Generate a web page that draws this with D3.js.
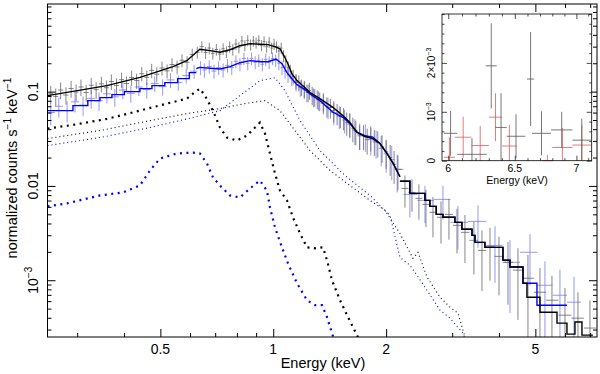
<!DOCTYPE html>
<html>
<head>
<meta charset="utf-8">
<script src="https://cdn.jsdelivr.net/npm/d3@7"></script>
<style>
body { margin: 0; background: #fff; }
text { font-family: "Liberation Sans", Arial, sans-serif; fill: #000; }
</style>
</head>
<body>
<script>
// ---- data (energies in keV, rates in counts/s/keV) ----
const xTickVals = [0.5, 1, 2, 5];
const xTickLabels = ["0.5", "1", "2", "5"];
const yTickVals = [0.001, 0.01, 0.1];
const yTickLabels = [["10", "\u22123"], ["0.01", ""], ["0.1", ""]];

// [E, rate, err]
const blackData = [[0.255,0.095,0.020],[0.263,0.089,0.019],[0.271,0.104,0.021],[0.280,0.092,0.019],[0.289,0.108,0.022],[0.298,0.099,0.020],[0.307,0.112,0.022],[0.317,0.098,0.020],[0.327,0.117,0.023],[0.337,0.105,0.021],[0.348,0.121,0.023],[0.359,0.110,0.021],[0.370,0.128,0.024],[0.382,0.116,0.022],[0.394,0.134,0.025],[0.406,0.122,0.023],[0.419,0.141,0.026],[0.432,0.131,0.024],[0.446,0.155,0.027],[0.460,0.142,0.025],[0.474,0.168,0.029],[0.489,0.153,0.027],[0.505,0.178,0.030],[0.521,0.166,0.028],[0.537,0.194,0.032],[0.554,0.183,0.030],[0.571,0.215,0.034],[0.589,0.205,0.033],[0.608,0.248,0.037],[0.627,0.262,0.038],
  [0.645,0.30,0.042],[0.660,0.26,0.038],[0.675,0.29,0.041],[0.690,0.255,0.037],[0.705,0.28,0.040],[0.720,0.25,0.036],[0.735,0.285,0.040],[0.750,0.265,0.038],[0.765,0.30,0.041],[0.780,0.28,0.039],[0.795,0.32,0.043],[0.810,0.295,0.040],[0.825,0.345,0.045],[0.840,0.31,0.042],[0.855,0.35,0.046],[0.870,0.315,0.042],[0.885,0.345,0.045],[0.900,0.33,0.044],[0.915,0.35,0.046],[0.930,0.31,0.042],[0.945,0.34,0.045],[0.960,0.30,0.041],[0.975,0.335,0.044],[0.990,0.29,0.040],[1.005,0.32,0.043],[1.020,0.30,0.041],[1.035,0.27,0.038],[1.050,0.29,0.040],[1.065,0.24,0.035],[1.080,0.21,0.032],[1.095,0.18,0.029],
  [1.11,0.165,0.028],[1.13,0.145,0.026],[1.15,0.13,0.024],[1.17,0.125,0.024],[1.19,0.112,0.022],[1.21,0.108,0.022],[1.23,0.098,0.021],[1.25,0.103,0.021],[1.27,0.092,0.020],[1.29,0.088,0.019],[1.31,0.084,0.019],[1.33,0.080,0.018],[1.36,0.078,0.018],[1.39,0.070,0.017],[1.42,0.068,0.016],[1.45,0.063,0.016],[1.48,0.059,0.015],[1.51,0.055,0.014],[1.54,0.053,0.014],[1.57,0.047,0.013],[1.60,0.046,0.013],[1.63,0.041,0.012],[1.66,0.038,0.011],[1.70,0.034,0.010],[1.74,0.034,0.010],[1.78,0.031,0.0095],[1.82,0.033,0.0098],[1.86,0.030,0.0092],[1.90,0.029,0.009],[1.95,0.026,0.0085],[2.00,0.023,0.0078],[2.05,0.020,0.0072],[2.10,0.017,0.0065],[2.15,0.015,0.006],
  [2.245,0.0094,0.0035],[2.344,0.00853,0.0032],[2.446,0.00738,0.003],[2.554,0.00637,0.0027],[2.666,0.00525,0.0024],[2.801,0.00465,0.0022],[2.941,0.00499,0.0023],[3.09,0.00382,0.0019],[3.245,0.00322,0.0017],[3.428,0.00265,0.0015],[3.602,0.00207,0.0013],[3.784,0.00229,0.0013],[3.999,0.00179,0.0011],[4.226,0.00155,0.001],[4.493,0.00128,0.0009],[4.777,0.00105,0.0008],[5.143,0.000746,0.0006],[5.536,0.000614,0.0005],[5.997,0.000426,0.0004],[6.494,0.000396,0.00035],[6.991,0.000311,0.0003]];

const blueData = [[0.255,0.060,0.016],[0.268,0.070,0.017],[0.282,0.063,0.016],[0.296,0.078,0.018],[0.311,0.072,0.017],[0.327,0.085,0.019],[0.343,0.080,0.018],[0.360,0.095,0.020],[0.378,0.088,0.019],[0.397,0.104,0.021],[0.417,0.096,0.020],[0.438,0.112,0.022],[0.460,0.105,0.021],[0.483,0.122,0.023],[0.507,0.113,0.022],[0.532,0.133,0.024],[0.558,0.125,0.023],[0.586,0.148,0.026],[0.615,0.165,0.028],[0.640,0.180,0.030],
  [0.655,0.17,0.029],[0.675,0.185,0.030],[0.695,0.165,0.028],[0.715,0.18,0.030],[0.735,0.17,0.029],[0.755,0.19,0.031],[0.775,0.18,0.030],[0.795,0.21,0.033],[0.815,0.195,0.031],[0.835,0.225,0.034],[0.855,0.20,0.032],[0.875,0.225,0.034],[0.895,0.205,0.032],[0.915,0.215,0.033],[0.935,0.195,0.031],[0.955,0.22,0.034],[0.975,0.205,0.032],[0.995,0.225,0.034],[1.015,0.215,0.033],[1.035,0.20,0.032],[1.055,0.18,0.030],[1.075,0.165,0.028],[1.095,0.15,0.027],
  [1.12,0.14,0.026],[1.15,0.125,0.024],[1.18,0.11,0.022],[1.21,0.105,0.022],[1.24,0.098,0.021],[1.28,0.088,0.020],[1.32,0.082,0.019],[1.36,0.075,0.018],[1.40,0.068,0.017],[1.45,0.060,0.016],[1.50,0.055,0.015],[1.55,0.050,0.014],[1.60,0.045,0.013],[1.65,0.039,0.012],[1.70,0.035,0.011],[1.76,0.034,0.011],[1.82,0.031,0.010],[1.88,0.029,0.0095],[1.94,0.025,0.0088],[2.00,0.022,0.0082],[2.07,0.019,0.0075],[2.14,0.015,0.0065],
  [2.314,0.00813,0.0035],[2.538,0.00703,0.003],[2.835,0.0072,0.0028],[3.108,0.00411,0.002],[3.515,0.00421,0.002],[3.902,0.00234,0.0014],[4.278,0.00155,0.0011],[4.837,0.00198,0.0011],[5.303,0.000885,0.0007],[5.815,0.000693,0.0006],[6.338,0.000585,0.0005]];

// total models: smooth part, then binned part
const blackModel = [[0.25,0.0907],[0.292,0.1007],[0.360,0.1158],[0.441,0.1417],[0.540,0.184],[0.588,0.213],[0.637,0.281],[0.678,0.272],[0.721,0.262],[0.767,0.278],[0.815,0.307],[0.867,0.323],[0.922,0.318],[0.968,0.315],[1.012,0.299],[1.042,0.285],[1.068,0.240],[1.094,0.198],[1.121,0.155],[1.157,0.131],[1.215,0.110],[1.253,0.0978],[1.332,0.0843],[1.442,0.0682],[1.533,0.0557],[1.601,0.047],[1.671,0.0371],[1.755,0.0334],[1.843,0.0318],[1.925,0.0282],[2.010,0.0221],[2.089,0.0173],[2.177,0.0125]];
const blueLowBins = [[0.25,0.0629],[0.2923,0.0711],[0.3202,0.0803],[0.345,0.0864],[0.3713,0.0929],[0.4008,0.100],[0.441,0.1076],[0.4747,0.1158],[0.5137,0.1246],[0.5559,0.1373],[0.5973,0.1589],[0.6235,0.1589]];
const blueModel = [[0.6235,0.1751],[0.637,0.181],[0.678,0.1773],[0.721,0.1739],[0.767,0.184],[0.815,0.2027],[0.867,0.213],[0.922,0.2077],[0.968,0.2077],[1.017,0.2218],[1.055,0.198],[1.088,0.1589],[1.121,0.137],[1.157,0.1186],[1.215,0.105],[1.253,0.0945],[1.332,0.0803],[1.442,0.0604],[1.533,0.0535],[1.601,0.0459],[1.671,0.0371],[1.755,0.0342],[1.843,0.0329],[1.925,0.0282],[2.010,0.0221],[2.089,0.0173],[2.177,0.0125]];
const blackBins = [[2.177,0.0112],[2.314,0.00834],[2.538,0.00703],[2.617,0.00607],[2.72,0.00499],[2.835,0.00465],[3.051,0.00411],[3.185,0.00347],[3.388,0.00299],[3.451,0.00252],[3.668,0.00223],[4.098,0.00163],[4.278,0.00138],[4.634,0.000929],[4.748,0.000661],[5.143,0.000458],[5.71,0.000351],[6.07,0.000268],[6.376,0.00036],[6.656,0.000262],[7.12,0.000262]];
const blueBins = [[2.177,0.0112],[2.314,0.00834],[2.538,0.00703],[2.617,0.00607],[2.72,0.00499],[2.835,0.00465],[3.051,0.00411],[3.185,0.00347],[3.388,0.00299],[3.451,0.00252],[3.668,0.00223],[4.098,0.00163],[4.278,0.00138],[4.634,0.000929],[5.049,0.000543],[6.07,0.000543]];

// model components
const blackCool = [[0.25,0.0406],[0.2923,0.0444],[0.3601,0.0514],[0.441,0.0629],[0.5206,0.0747],[0.5886,0.0843],[0.6108,0.0952],[0.6373,0.1076],[0.6575,0.0907],[0.6906,0.0629],[0.7209,0.0416],[0.7523,0.0326],[0.80,0.0303],[0.8509,0.0342],[0.8937,0.0416],[0.9215,0.047],[0.9504,0.0359],[0.9799,0.0221],[1.0104,0.0136],[1.042,0.00896],[1.0877,0.00703],[1.1287,0.00464],[1.1783,0.00314],[1.2301,0.00223],[1.2921,0.00218],[1.3571,0.00223],[1.3908,0.00163],[1.4342,0.001],[1.5064,0.000614],[1.5822,0.000406],[1.6823,0.000249],[1.75,0.00017]];
const blueCool = [[0.25,0.00607],[0.2818,0.00653],[0.345,0.00793],[0.3973,0.00853],[0.441,0.0101],[0.469,0.0146],[0.4987,0.0195],[0.5536,0.0221],[0.6108,0.0226],[0.6373,0.0221],[0.6657,0.0173],[0.6906,0.0123],[0.7209,0.0101],[0.7663,0.00793],[0.8149,0.00755],[0.8668,0.0094],[0.9215,0.0114],[0.962,0.0089],[0.9799,0.00592],[1.0104,0.00364],[1.0549,0.00223],[1.0944,0.00151],[1.1567,0.000929],[1.2301,0.000614],[1.2921,0.000544],[1.3488,0.000544],[1.3908,0.000406],[1.4342,0.000275],[1.47,0.0002]];
const blackHot = [[0.25,0.0318],[0.345,0.0387],[0.469,0.0493],[0.5886,0.0585],[0.7209,0.0661],[0.8403,0.0747],[0.9504,0.0803],[1.042,0.0629],[1.1427,0.0387],[1.253,0.0237],[1.4167,0.0146],[1.6017,0.0101],[1.811,0.00703],[1.9862,0.00551],[2.1771,0.00314],[2.3577,0.00171],[2.4316,0.00198],[2.5699,0.00108],[2.7836,0.000661],[2.9595,0.000518],[3.1088,0.000447],[3.2456,0.000249],[3.35,0.00018]];
const blueHot = [[0.25,0.0268],[0.345,0.0326],[0.469,0.0416],[0.5886,0.0514],[0.7209,0.0629],[0.8149,0.0907],[0.9215,0.1307],[1.0104,0.1406],[1.0745,0.1025],[1.1783,0.0493],[1.3323,0.0237],[1.5533,0.0129],[1.811,0.00793],[2.0477,0.00487],[2.1771,0.00175],[2.3145,0.00144],[2.4166,0.00113],[2.5699,0.000784],[2.7836,0.000481],[2.9595,0.000396],[3.2062,0.000275],[3.3,0.0002]];

// inset: [Elo, Ehi, rate (1e-3), err (1e-3)]
const insetBlack = [[5.969,6.065,0.56,0.46],[6.065,6.284,0.13,0.33],[6.277,6.360,1.94,0.87],[6.350,6.437,0.68,0.70],[6.437,6.583,0.50,0.45],[6.596,6.654,1.67,0.96],[6.636,6.789,0.56,0.45],[6.789,6.967,0.63,0.37],[6.967,7.125,0.42,0.44]];
const insetRed = [[5.969,6.048,0.07,0.41],[6.048,6.170,0.48,0.42],[6.170,6.301,0.31,0.40],[6.301,6.401,0.89,0.49],[6.401,6.515,0.30,0.43],[6.72,6.80,0.0,0.12],[6.800,6.967,0.27,0.40],[6.967,7.125,0.32,0.41]];
const insetXTicks = [6, 6.5, 7];
const insetXLabels = ["6", "6.5", "7"];
const insetYTicks = [0, 1, 2];

// ---- layout ----
const W = 600, H = 374;
const L = 47.5, R = 597, T = 4, B = 337;

const svg = d3.select("body").append("svg").attr("width", W).attr("height", H);

const x = d3.scaleLog().domain([0.25, 7.3]).range([L, R]);
const y = d3.scaleLog().domain([2.5e-4, 0.85]).range([B, T]);

svg.append("defs").append("clipPath").attr("id", "clip")
  .append("rect").attr("x", L).attr("y", T).attr("width", R - L).attr("height", B - T);

const plot = svg.append("g").attr("clip-path", "url(#clip)");

// bin edges from neighbouring energies
function withBins(arr) {
  return arr.map((d, i) => {
    const prev = i > 0 ? arr[i - 1][0] : d[0] * d[0] / arr[i + 1][0];
    const next = i < arr.length - 1 ? arr[i + 1][0] : d[0] * d[0] / arr[i - 1][0];
    return {e: d[0], v: d[1], err: d[2], lo: Math.sqrt(prev * d[0]), hi: Math.sqrt(next * d[0])};
  });
}

function drawCrosses(arr, color) {
  const g = plot.append("g").attr("stroke", color).attr("stroke-width", 0.8);
  const pts = withBins(arr);
  g.selectAll(".h").data(pts).join("line")
    .attr("x1", d => x(d.lo)).attr("x2", d => x(d.hi))
    .attr("y1", d => y(d.v)).attr("y2", d => y(d.v));
  g.selectAll(".v").data(pts).join("line")
    .attr("x1", d => x(d.e)).attr("x2", d => x(d.e))
    .attr("y1", d => y(Math.max(d.v - d.err, 1e-5))).attr("y2", d => y(d.v + d.err));
}

drawCrosses(blueData, "#7b7bf5");
drawCrosses(blackData, "#666");

const line = d3.line().x(d => x(d[0])).y(d => y(d[1]));
const stepLine = d3.line().x(d => x(d[0])).y(d => y(d[1])).curve(d3.curveStepAfter);

function comp(arr, color, w, dash) {
  plot.append("path").datum(arr).attr("d", line)
    .attr("fill", "none").attr("stroke", color).attr("stroke-width", w)
    .attr("stroke-dasharray", dash);
}
comp(blackHot, "#000", 1.1, "1,3");
comp(blueHot, "#0000ff", 1.1, "1,3");
comp(blackCool, "#000", 2.2, "2,4.5");
comp(blueCool, "#0000ff", 2.2, "2,4.5");

function model(arr, gen, color) {
  plot.append("path").datum(arr).attr("d", gen).attr("fill", "none")
    .attr("stroke", color).attr("stroke-width", 1.4);
}
model(blueLowBins, stepLine, "#0000ff");
model(blueModel, line, "#0000ff");
model(blueBins, stepLine, "#0000ff");
model(blackModel, line, "#000");
model(blackBins, stepLine, "#000");

// ---- axes (ticks inward on all four sides) ----
const minorX = x.ticks().filter(t => !xTickVals.includes(t));
const minorY = y.ticks().filter(t => !yTickVals.some(v => Math.abs(v - t) < 1e-9));

function axisSet(axisFn, scale, minor, major, transform) {
  svg.append("g").attr("transform", transform)
    .call(axisFn(scale).tickValues(minor).tickSize(-4).tickFormat(""))
    .call(g => g.select(".domain").remove());
  svg.append("g").attr("transform", transform)
    .call(axisFn(scale).tickValues(major).tickSize(-8).tickFormat(""))
    .call(g => g.select(".domain").remove());
}
axisSet(d3.axisBottom, x, minorX, xTickVals, `translate(0,${B})`);
axisSet(d3.axisTop, x, minorX, xTickVals, `translate(0,${T})`);
axisSet(d3.axisLeft, y, minorY, yTickVals, `translate(${L},0)`);
axisSet(d3.axisRight, y, minorY, yTickVals, `translate(${R},0)`);

svg.append("rect").attr("x", L).attr("y", T).attr("width", R - L).attr("height", B - T)
  .attr("fill", "none").attr("stroke", "#000").attr("stroke-width", 1);

svg.selectAll(".xl").data(xTickVals).join("text")
  .attr("x", d => x(d)).attr("y", 354).attr("text-anchor", "middle")
  .style("font-size", "14px").text((d, i) => xTickLabels[i]);

const yl = svg.selectAll(".yl").data(yTickVals).join("text")
  .attr("transform", d => `translate(38,${y(d)}) rotate(-90)`)
  .attr("text-anchor", "middle").style("font-size", "14px");
yl.append("tspan").text((d, i) => yTickLabels[i][0]);
yl.append("tspan").attr("dy", -6).style("font-size", "10px").text((d, i) => yTickLabels[i][1]);

svg.append("text").attr("x", 323).attr("y", 368).attr("text-anchor", "middle")
  .style("font-size", "14.5px").text("Energy (keV)");

const yt = svg.append("text").attr("transform", "translate(17,168) rotate(-90)")
  .attr("text-anchor", "middle").style("font-size", "14.5px");
yt.append("tspan").text("normalized counts s");
yt.append("tspan").attr("dy", -6).style("font-size", "10px").text("\u22121");
yt.append("tspan").attr("dy", 6).text(" keV");
yt.append("tspan").attr("dy", -6).style("font-size", "10px").text("\u22121");

// ---- inset ----
const iL = 442, iR = 591.7, iT = 14, iB = 160.7;
const xi = d3.scaleLog().domain([5.955, 7.13]).range([iL, iR]);
const yi = d3.scaleLinear().domain([0, 3.0]).range([iB, iT]);
const inset = svg.append("g");
inset.append("rect").attr("x", iL).attr("y", iT).attr("width", iR - iL).attr("height", iB - iT)
  .attr("fill", "#fff").attr("stroke", "none");

function insetCrosses(arr, color) {
  const g = inset.append("g").attr("stroke", color).attr("stroke-width", 0.8);
  g.selectAll(".h").data(arr).join("line")
    .attr("x1", d => xi(d[0])).attr("x2", d => xi(d[1]))
    .attr("y1", d => yi(d[2])).attr("y2", d => yi(d[2]));
  g.selectAll(".v").data(arr).join("line")
    .attr("x1", d => (xi(d[0]) + xi(d[1])) / 2).attr("x2", d => (xi(d[0]) + xi(d[1])) / 2)
    .attr("y1", d => yi(Math.max(d[2] - d[3], 0))).attr("y2", d => yi(d[2] + d[3]));
}
insetCrosses(insetRed, "#e05a5a");
insetCrosses(insetBlack, "#555");

const iMinorX = d3.range(6.0, 7.11, 0.1).filter(t => !insetXTicks.some(v => Math.abs(v - t) < 1e-6));
const iMinorY = d3.range(0, 3.01, 0.2).filter(t => !insetYTicks.some(v => Math.abs(v - t) < 1e-6));
function insetAxis(axisFn, scale, vals, size, tr) {
  inset.append("g").attr("transform", tr)
    .call(axisFn(scale).tickValues(vals).tickSize(-size).tickFormat(""))
    .call(g => g.select(".domain").remove())
    .selectAll("line").attr("stroke-width", 0.7);
}
insetAxis(d3.axisBottom, xi, iMinorX, 2.5, `translate(0,${iB})`);
insetAxis(d3.axisBottom, xi, insetXTicks, 5, `translate(0,${iB})`);
insetAxis(d3.axisTop, xi, iMinorX, 2.5, `translate(0,${iT})`);
insetAxis(d3.axisTop, xi, insetXTicks, 5, `translate(0,${iT})`);
insetAxis(d3.axisLeft, yi, iMinorY, 2.5, `translate(${iL},0)`);
insetAxis(d3.axisLeft, yi, insetYTicks, 5, `translate(${iL},0)`);
insetAxis(d3.axisRight, yi, iMinorY, 2.5, `translate(${iR},0)`);
insetAxis(d3.axisRight, yi, insetYTicks, 5, `translate(${iR},0)`);
inset.append("rect").attr("x", iL).attr("y", iT).attr("width", iR - iL).attr("height", iB - iT)
  .attr("fill", "none").attr("stroke", "#000").attr("stroke-width", 0.8);

inset.selectAll(".ixl").data(insetXTicks).join("text")
  .attr("x", d => xi(d)).attr("y", 172).attr("text-anchor", "middle")
  .style("font-size", "10.5px").text((d, i) => insetXLabels[i]);
inset.append("text").attr("x", 517).attr("y", 184).attr("text-anchor", "middle")
  .style("font-size", "10.5px").text("Energy (keV)");

const iyl = inset.selectAll(".iyl").data(insetYTicks).join("text")
  .attr("transform", d => `translate(435,${yi(d)}) rotate(-90)`)
  .attr("text-anchor", "middle").style("font-size", "10px");
iyl.append("tspan").text(d => d === 0 ? "0" : d === 1 ? "10" : "2\u00d710");
iyl.append("tspan").attr("dy", -4).style("font-size", "7px").text(d => d === 0 ? "" : "\u22123");
</script>
</body>
</html>
